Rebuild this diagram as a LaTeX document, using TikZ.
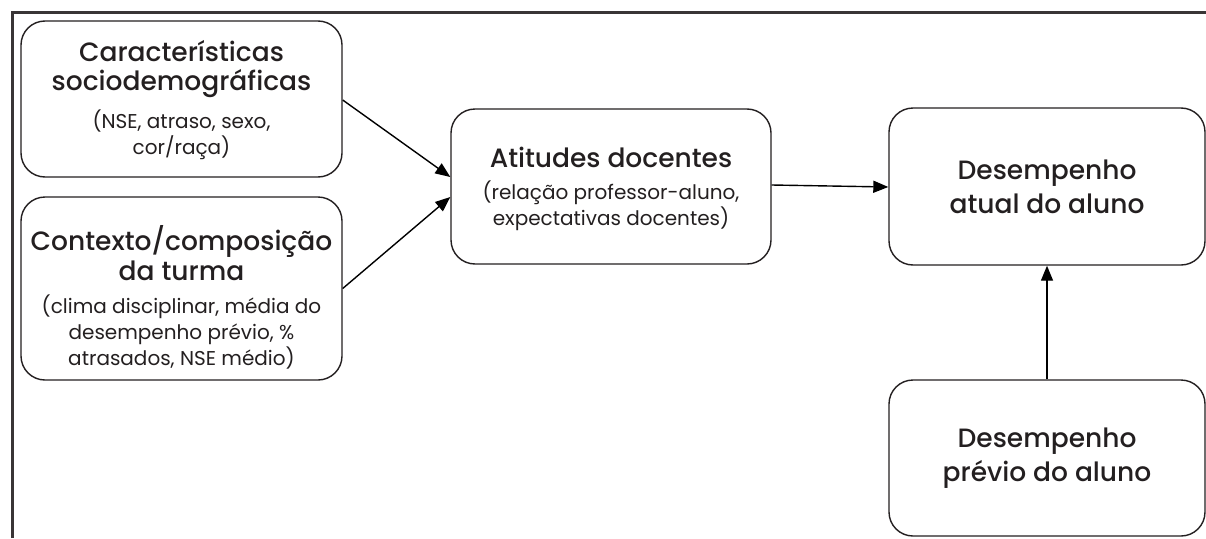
\documentclass[tikz,border=0pt]{standalone}
\usepackage{fontspec}
\setmainfont{Poppins}
\newfontfamily\ttlfam{Poppins Medium}
\usetikzlibrary{arrows.meta,calc}
\definecolor{ink}{HTML}{231F20}
\tikzset{
  box/.style={draw=ink, line width=1.4pt, rounded corners=24pt, inner sep=0pt, text=ink},
  conn/.style={draw=black, line width=1.4pt, -{Triangle[length=15pt,width=12pt]}},
  frame/.style={draw=ink!90, line width=3pt}
}
\newcommand{\ttlf}{\ttlfam\fontsize{26.5}{29.5}\selectfont}
\newcommand{\subf}{\rmfamily\fontsize{20}{26}\selectfont}
% top pad, title, gap, subtitle
\newcommand{\bxtext}[4]{\parbox{316pt}{\centering\vspace*{#1}\ttlf #2\par\vspace{#3}\subf #4\par}}
\newcommand{\bxonly}[1]{\parbox{310pt}{\centering\ttlfam\fontsize{26.5}{34}\selectfont #1\par}}
\begin{document}
\begin{tikzpicture}[x=1pt,y=-1pt]
\useasboundingbox (0,0) rectangle (1206,538);
\draw[frame] (12,538) -- (12,12) -- (1206,12);
\node[box, minimum width=321pt, minimum height=156pt] (b1) at (181.5,99)
  {\bxtext{2pt}{Características\\sociodemográficas}{12pt}{(NSE, atraso, sexo,\\cor/raça)}};
\node[box, minimum width=321pt, minimum height=183pt] (b2) at (181.5,288.5)
  {\bxtext{18pt}{Contexto/composição\\da turma}{7pt}{(clima disciplinar, média do\\desempenho prévio, \%\\atrasados, NSE médio)}};
\node[box, minimum width=320pt, minimum height=155pt] (b3) at (611,186.5)
  {\bxtext{5pt}{Atitudes docentes}{6pt}{(relação professor-aluno,\\expectativas docentes)}};
\node[box, minimum width=316pt, minimum height=157pt] (b4) at (1047,186.5)
  {\bxonly{Desempenho\\atual do aluno}};
\node[box, minimum width=316pt, minimum height=156pt] (b5) at (1047,458)
  {\bxonly{Desempenho\\prévio do aluno}};
\draw[conn] ($(b1.east)+(0,1)$) -- ($(b3.west)+(0,-9.5)$);
\draw[conn] (b2.east) -- ($(b3.west)+(0,10.5)$);
\draw[conn] ($(b3.east)+(0,-1.5)$) -- ($(b4.west)+(0,0.5)$);
\draw[conn] (b5.north) -- (b4.south);
\end{tikzpicture}
\end{document}
